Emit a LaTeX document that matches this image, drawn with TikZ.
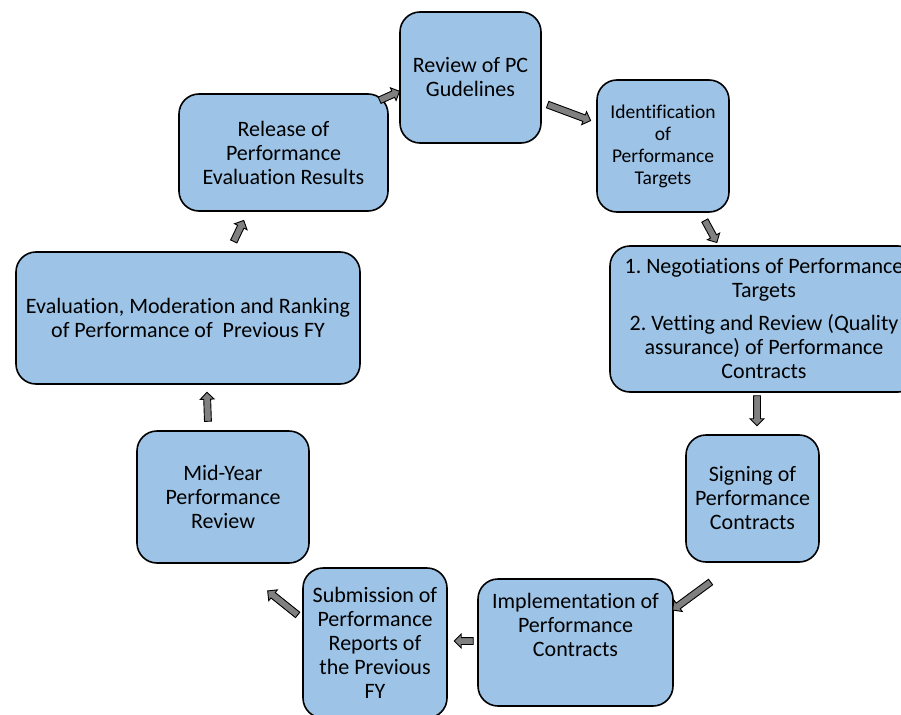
\documentclass[tikz,border=0pt]{standalone}
\usepackage{fontspec}
\setmainfont{Carlito}[Ligatures=NoCommon]
\usetikzlibrary{shapes.arrows,calc}
\definecolor{boxblue}{HTML}{9DC3E6}
\definecolor{arrowgray}{HTML}{808080}
\frenchspacing

\begin{document}
\begin{tikzpicture}[x=1pt, y=-1pt,
  stage/.style={draw, line width=1.6pt, fill=boxblue, rounded corners=20pt, align=center, inner sep=0pt, font=\fontsize{22}{24}\selectfont},
  fat/.style={single arrow, draw=black, line width=0.9pt, fill=arrowgray, inner sep=3pt, single arrow head extend=3.5pt, minimum width=0pt},
  blk/.style={to path={let \p1=($(\tikztotarget)-(\tikztostart)$) in node[fat, minimum height={veclen(\x1,\y1)}, rotate={atan2(\y1,\x1)}] at ($(\tikztostart)!0.5!(\tikztotarget)$) {}}}
]
\useasboundingbox (0,0) rectangle (901,714);
\clip (0,0) rectangle (901,714);

% stages of the cycle
\node[stage, minimum width=141pt, minimum height=131pt] (rev) at (470.5,77.5) {Review of PC\\Gudelines};
\node[stage, minimum width=132pt, minimum height=132pt, font=\fontsize{19.5}{22}\selectfont] (ident) at (663,146) {Identification\\of\\Performance\\Targets};
\node[stage, minimum width=308pt, minimum height=146pt] (nego) at (764,319) {1. Negotiations of Performance\\Targets\\[9pt]2. Vetting and Review (Quality\\assurance) of Performance\\Contracts};
\node[stage, minimum width=133pt, minimum height=127pt] (sign) at (752.5,498.5) {Signing of\\Performance\\Contracts};
\node[stage, minimum width=195pt, minimum height=127pt] (impl) at (575.5,642.5) {Implementation of\\Performance\\Contracts\\[11pt]\mbox{}};
\node[stage, minimum width=144pt, minimum height=150pt] (subm) at (375,643) {Submission of\\Performance\\Reports of\\the Previous\\FY};
\node[stage, minimum width=172pt, minimum height=132pt] (mid) at (223,497) {Mid-Year\\Performance\\Review};
\node[stage, minimum width=344pt, minimum height=132pt] (eval) at (188,318) {Evaluation, Moderation and Ranking\\of Performance of~ Previous FY};
\node[stage, minimum width=209pt, minimum height=117pt] (rel) at (283.5,152.5) {Release of\\Performance\\Evaluation Results};

% block arrows
\coordinate (a1s) at (378,101); \coordinate (a1e) at (398,92);
\coordinate (a2s) at (546,104); \coordinate (a2e) at (589,120);
\coordinate (a3s) at (704,219); \coordinate (a3e) at (716,241);
\coordinate (a4s) at (757,394); \coordinate (a4e) at (757,424);
\coordinate (a5s) at (712,581); \coordinate (a5e) at (674,609);
\coordinate (a6s) at (475,641); \coordinate (a6e) at (456,641);
\coordinate (a7s) at (299,616); \coordinate (a7e) at (269,592);
\coordinate (a8s) at (208,423); \coordinate (a8e) at (207,394);
\coordinate (a9s) at (233,243); \coordinate (a9e) at (243,222);
\path (a1s) to[blk] (a1e);
\path (a2s) to[blk] (a2e);
\path (a3s) to[blk] (a3e);
\path (a4s) to[blk] (a4e);
\path (a5s) to[blk] (a5e);
\path (a6s) to[blk] (a6e);
\path (a7s) to[blk] (a7e);
\path (a8s) to[blk] (a8e);
\path (a9s) to[blk] (a9e);
\end{tikzpicture}
\end{document}
